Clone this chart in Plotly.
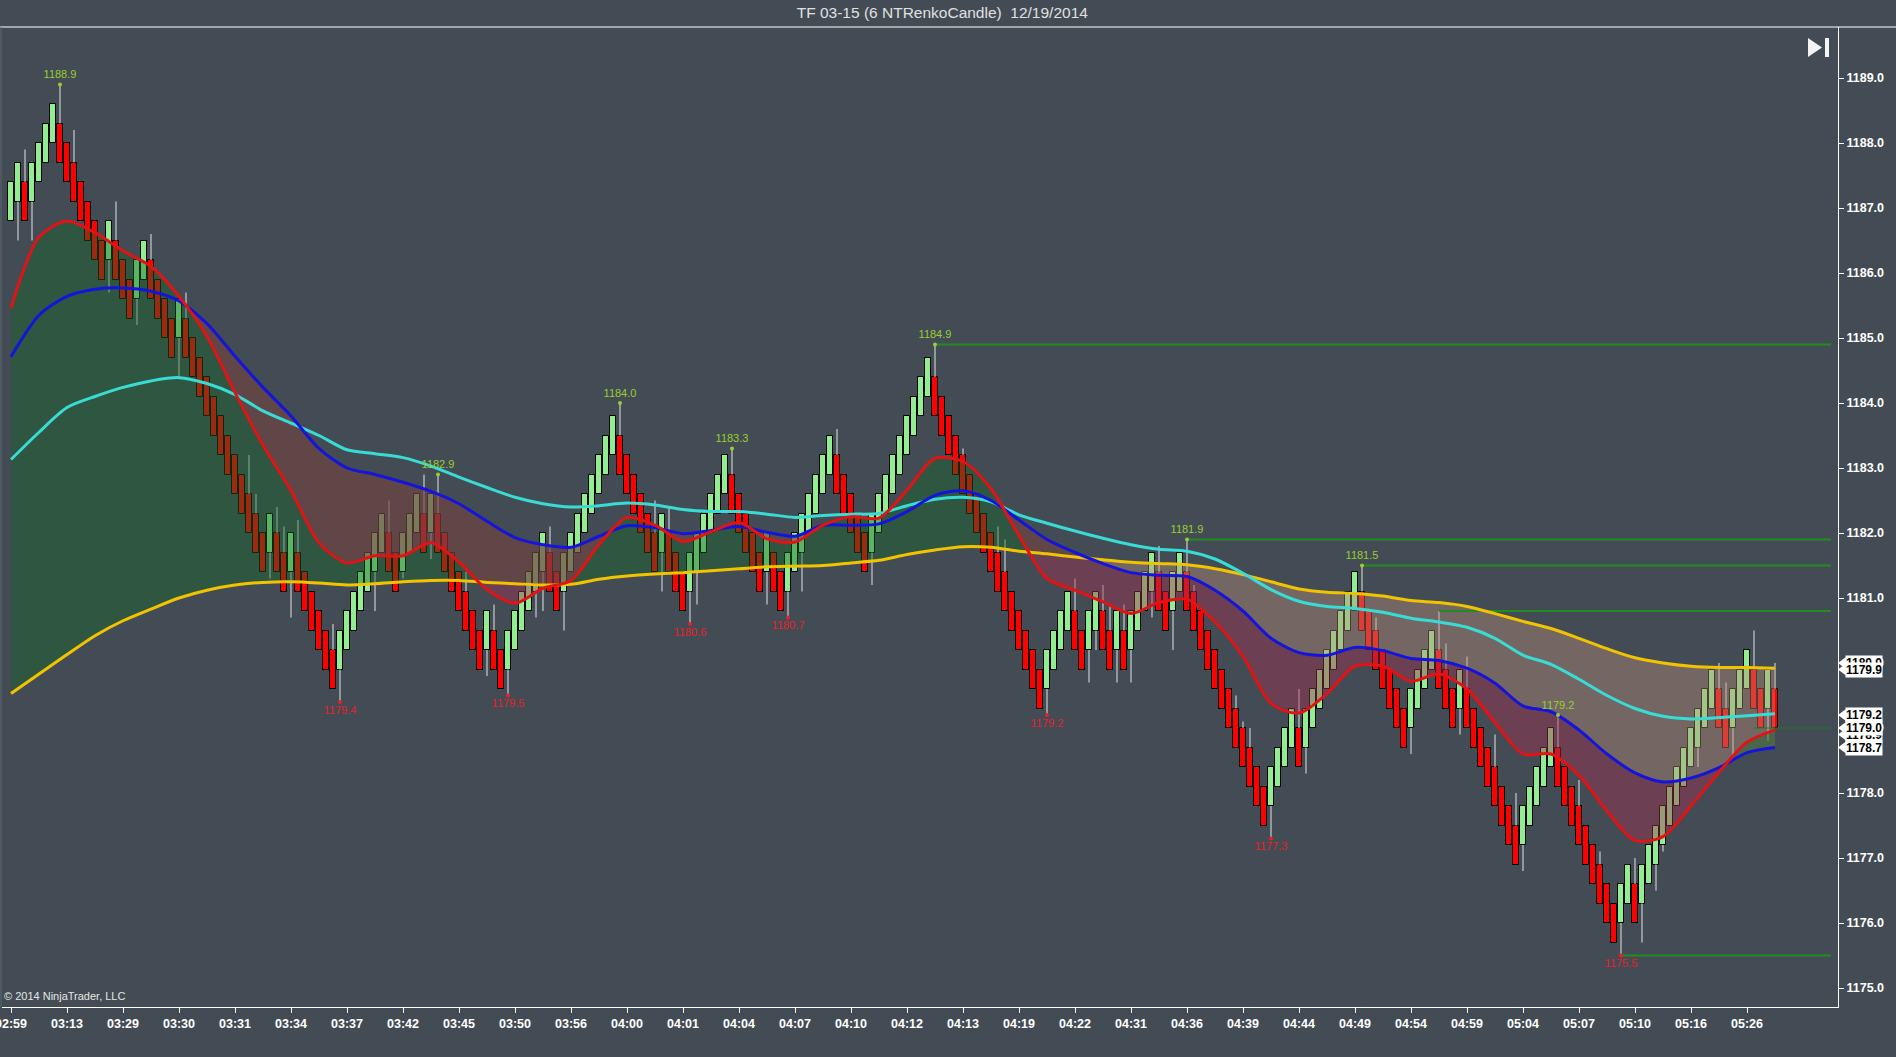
import plotly.graph_objects as go

BOX = 0.6  # renko brick height (6 ticks of 0.1)

# body top of every renko bar, read left to right
bar_top = [
    1187.4, 1187.7, 1187.4, 1187.7, 1188.0, 1188.3, 1188.6, 1188.3, 1188.0, 1187.7,
    1187.4, 1187.1, 1186.8, 1186.5, 1186.8, 1186.5, 1186.2, 1185.9, 1186.2, 1186.5,
    1186.2, 1185.9, 1185.6, 1185.3, 1185.6, 1185.3, 1185.0, 1184.7, 1184.4, 1184.1,
    1183.8, 1183.5, 1183.2, 1182.9, 1182.6, 1182.3, 1182.0, 1182.3, 1182.0, 1181.7,
    1182.0, 1181.7, 1181.4, 1181.1, 1180.8, 1180.5, 1180.2, 1180.5, 1180.8, 1181.1,
    1181.4, 1181.7, 1182.0, 1182.3, 1182.0, 1181.7, 1182.0, 1182.3, 1182.6, 1182.3,
    1182.6, 1182.3, 1182.0, 1181.7, 1181.4, 1181.1, 1180.8, 1180.5, 1180.8, 1180.5,
    1180.2, 1180.5, 1180.8, 1181.1, 1181.4, 1181.7, 1182.0, 1181.7, 1181.4, 1181.7,
    1182.0, 1182.3, 1182.6, 1182.9, 1183.2, 1183.5, 1183.8, 1183.5, 1183.2, 1182.9,
    1182.6, 1182.3, 1182.0, 1182.3, 1182.0, 1181.7, 1181.4, 1181.7, 1182.0, 1182.3,
    1182.6, 1182.9, 1183.2, 1182.9, 1182.6, 1182.3, 1182.0, 1181.7, 1182.0, 1181.7,
    1181.4, 1181.7, 1182.0, 1182.3, 1182.6, 1182.9, 1183.2, 1183.5, 1183.2, 1182.9,
    1182.6, 1182.3, 1182.0, 1182.3, 1182.6, 1182.9, 1183.2, 1183.5, 1183.8, 1184.1,
    1184.4, 1184.7, 1184.4, 1184.1, 1183.8, 1183.5, 1183.2, 1182.9, 1182.6, 1182.3,
    1182.0, 1181.7, 1181.4, 1181.1, 1180.8, 1180.5, 1180.2, 1179.9, 1180.2, 1180.5,
    1180.8, 1181.1, 1180.8, 1180.5, 1180.8, 1181.1, 1180.8, 1180.5, 1180.8, 1180.5,
    1180.8, 1181.1, 1181.4, 1181.7, 1181.4, 1181.1, 1181.4, 1181.7, 1181.4, 1181.1,
    1180.8, 1180.5, 1180.2, 1179.9, 1179.6, 1179.3, 1179.0, 1178.7, 1178.4, 1178.1,
    1178.4, 1178.7, 1179.0, 1179.3, 1179.0, 1179.3, 1179.6, 1179.9, 1180.2, 1180.5,
    1180.8, 1181.1, 1181.4, 1181.1, 1180.8, 1180.5, 1180.2, 1179.9, 1179.6, 1179.3,
    1179.6, 1179.9, 1180.2, 1180.5, 1180.2, 1179.9, 1179.6, 1179.9, 1179.6, 1179.3,
    1179.0, 1178.7, 1178.4, 1178.1, 1177.8, 1177.5, 1177.8, 1178.1, 1178.4, 1178.7,
    1179.0, 1178.7, 1178.4, 1178.1, 1177.8, 1177.5, 1177.2, 1176.9, 1176.6, 1176.3,
    1176.6, 1176.9, 1176.6, 1176.9, 1177.2, 1177.5, 1177.8, 1178.1, 1178.4, 1178.7,
    1179.0, 1179.3, 1179.6, 1179.9, 1179.6, 1179.3, 1179.6, 1179.9, 1180.2, 1179.9,
    1179.6, 1179.9, 1179.6,
]

# bars that show a wick: bar number, low, high
wick_idx = [1, 2, 3, 7, 9, 14, 15, 18, 20, 24, 25, 34, 35, 37, 38, 39, 40, 41, 46, 47,
            52, 54, 56, 59, 60, 61, 65, 68, 69, 71, 75, 76, 77, 79, 87, 92, 93, 94, 97, 98,
            103, 108, 111, 113, 118, 123, 132, 136, 141, 142, 148, 152, 154, 155, 156, 157,
            158, 159, 160, 163, 164, 166, 168, 169, 175, 176, 177, 180, 184, 185, 193, 195,
            200, 204, 205, 207, 208, 212, 215, 216, 221, 224, 227, 230, 232, 233, 235, 236,
            239, 241, 244, 245, 246, 249, 251, 252]
wick_lo = [1186.5, 1186.8, 1186.5, 1187.7, 1187.1, 1185.7, 1185.9, 1185.2, 1185.6, 1184.4,
           1184.7, 1182.0, 1181.7, 1181.3, 1181.4, 1181.1, 1180.7, 1181.1, 1179.6, 1179.4,
           1180.8, 1181.4, 1181.3, 1181.7, 1181.6, 1181.7, 1180.5, 1179.8, 1179.9, 1179.5,
           1180.7, 1180.8, 1181.1, 1180.5, 1182.9, 1181.4, 1181.1, 1181.4, 1180.6, 1180.9,
           1182.3, 1180.9, 1180.7, 1181.1, 1182.6, 1181.2, 1183.8, 1182.6, 1181.1, 1180.8,
           1179.2, 1180.2, 1179.7, 1180.2, 1180.2, 1179.9, 1179.7, 1179.9, 1179.7, 1180.7,
           1180.8, 1180.2, 1180.8, 1180.5, 1178.7, 1178.4, 1178.1, 1177.3, 1178.4, 1178.3,
           1180.5, 1179.9, 1178.6, 1179.6, 1179.3, 1178.9, 1179.0, 1177.8, 1176.9, 1176.8,
           1178.1, 1177.2, 1176.3, 1175.5, 1176.0, 1175.7, 1176.5, 1177.1, 1178.3, 1178.4,
           1179.0, 1178.7, 1178.5, 1179.3, 1178.8, 1179.0]
wick_hi = [1187.7, 1187.9, 1187.7, 1188.9, 1188.2, 1186.8, 1187.1, 1186.2, 1186.6, 1185.6,
           1185.7, 1183.2, 1182.6, 1182.3, 1182.4, 1182.1, 1182.0, 1182.2, 1180.6, 1180.5,
           1182.0, 1182.5, 1182.0, 1182.9, 1182.6, 1182.9, 1181.4, 1180.8, 1180.9, 1180.5,
           1181.7, 1182.0, 1182.1, 1181.7, 1184.0, 1182.5, 1182.3, 1182.4, 1181.7, 1182.0,
           1183.3, 1182.0, 1181.7, 1182.3, 1183.6, 1182.3, 1184.9, 1183.3, 1182.1, 1181.9,
           1180.2, 1181.3, 1180.8, 1181.1, 1181.2, 1180.9, 1180.8, 1180.9, 1180.8, 1181.7,
           1181.8, 1181.4, 1181.9, 1181.2, 1179.5, 1179.1, 1179.0, 1178.4, 1179.6, 1179.3,
           1181.5, 1180.7, 1179.6, 1180.8, 1180.3, 1179.9, 1180.1, 1178.9, 1178.0, 1177.8,
           1179.2, 1178.2, 1177.1, 1176.6, 1177.0, 1176.9, 1177.5, 1177.8, 1178.7, 1179.3,
           1180.0, 1179.7, 1179.6, 1180.5, 1179.9, 1180.0]

# moving averages, read every 4 bars
ma_step = 4
ma_red = [1185.46, 1186.55, 1186.80, 1186.62, 1186.34, 1186.10, 1185.64, 1185.02, 1184.16, 1183.35,
          1182.65, 1181.85, 1181.54, 1181.65, 1181.65, 1181.85, 1181.55, 1181.13, 1180.92, 1181.15,
          1181.27, 1181.82, 1182.24, 1182.12, 1181.87, 1182.02, 1182.16, 1181.91, 1181.86, 1182.12,
          1182.25, 1182.23, 1182.66, 1183.15, 1183.10, 1182.68, 1181.96, 1181.30, 1181.12, 1180.94,
          1180.76, 1180.93, 1180.98, 1180.63, 1180.10, 1179.38, 1179.23, 1179.53, 1179.95, 1179.95,
          1179.72, 1179.83, 1179.60, 1179.08, 1178.60, 1178.60, 1178.27, 1177.72, 1177.27, 1177.33,
          1177.80, 1178.32, 1178.78, 1178.97]
ma_blue = [1184.71, 1185.35, 1185.64, 1185.75, 1185.77, 1185.72, 1185.57, 1185.22, 1184.72, 1184.24,
           1183.80, 1183.30, 1183.00, 1182.90, 1182.78, 1182.64, 1182.45, 1182.18, 1181.93, 1181.82,
           1181.78, 1181.95, 1182.11, 1182.08, 1181.99, 1182.04, 1182.10, 1182.01, 1181.95, 1182.12,
           1182.12, 1182.14, 1182.33, 1182.58, 1182.65, 1182.50, 1182.20, 1181.90, 1181.70, 1181.53,
           1181.39, 1181.35, 1181.33, 1181.12, 1180.80, 1180.38, 1180.16, 1180.12, 1180.24, 1180.19,
           1180.07, 1180.04, 1179.92, 1179.69, 1179.34, 1179.25, 1178.97, 1178.60, 1178.31, 1178.17,
           1178.23, 1178.39, 1178.62, 1178.70]
ma_cyan = [1183.13, 1183.55, 1183.93, 1184.10, 1184.24, 1184.34, 1184.39, 1184.30, 1184.13, 1183.88,
           1183.69, 1183.50, 1183.28, 1183.22, 1183.16, 1183.03, 1182.86, 1182.70, 1182.55, 1182.45,
           1182.40, 1182.42, 1182.46, 1182.43, 1182.36, 1182.33, 1182.33, 1182.29, 1182.24, 1182.27,
           1182.29, 1182.30, 1182.42, 1182.52, 1182.55, 1182.48, 1182.28, 1182.15, 1182.03, 1181.92,
           1181.82, 1181.75, 1181.72, 1181.60, 1181.38, 1181.13, 1180.95, 1180.87, 1180.84, 1180.78,
           1180.69, 1180.63, 1180.55, 1180.38, 1180.12, 1179.98, 1179.75, 1179.50, 1179.30, 1179.18,
           1179.14, 1179.16, 1179.19, 1179.22]
ma_yellow = [1179.53, 1179.83, 1180.13, 1180.42, 1180.65, 1180.83, 1181.00, 1181.12, 1181.20, 1181.24,
             1181.25, 1181.23, 1181.20, 1181.22, 1181.25, 1181.27, 1181.27, 1181.24, 1181.22, 1181.20,
             1181.21, 1181.29, 1181.34, 1181.37, 1181.39, 1181.42, 1181.45, 1181.48, 1181.49, 1181.50,
             1181.54, 1181.58, 1181.67, 1181.74, 1181.79, 1181.78, 1181.72, 1181.68, 1181.63, 1181.59,
             1181.55, 1181.53, 1181.51, 1181.45, 1181.36, 1181.25, 1181.14, 1181.09, 1181.07, 1181.03,
             1180.96, 1180.93, 1180.87, 1180.76, 1180.64, 1180.53, 1180.38, 1180.22, 1180.08, 1180.00,
             1179.95, 1179.93, 1179.93, 1179.92]

time_labels = ["02:59", "03:13", "03:29", "03:30", "03:31", "03:34", "03:37", "03:42",
               "03:45", "03:50", "03:56", "04:00", "04:01", "04:04", "04:07", "04:10",
               "04:12", "04:13", "04:19", "04:22", "04:31", "04:36", "04:39", "04:44",
               "04:49", "04:54", "04:59", "05:04", "05:07", "05:10", "05:16", "05:26"]
bars_per_label = 8

swing_hi_idx = [7, 61, 87, 103, 132, 168, 193, 221]
swing_hi_val = [1188.9, 1182.9, 1184.0, 1183.3, 1184.9, 1181.9, 1181.5, 1179.2]
swing_lo_idx = [47, 71, 97, 111, 148, 180, 230]
swing_lo_val = [1179.4, 1179.5, 1180.6, 1180.7, 1179.2, 1177.3, 1175.5]

level_start = [132, 168, 193, 204, 230, 249]
level_val = [1184.9, 1181.9, 1181.5, 1180.8, 1175.5, 1179.0]
level_end = 260

# price markers on the right axis (drawn in this order)
marker_val = [1180.0, 1179.9, 1178.9, 1179.2, 1179.0, 1178.7]

BG = "#434c54"
FONT = "Liberation Sans, Arial, sans-serif"
W, H = 1896, 1057
L, R, T, B = 2, 58, 27, 50
PW, PH = W - L - R, H - T - B


def px_x(px):
    return (px - L) / PW


def px_y(py):
    return (H - B - py) / PH


n = len(bar_top)
idx = list(range(n))
up = [True] + [bar_top[i] > bar_top[i - 1] for i in range(1, n)]
colors = ["#90ee90" if u else "#ff0000" for u in up]

fig = go.Figure()

# bodies
fig.add_trace(go.Bar(
    x=idx, y=[BOX] * n, base=[t - BOX for t in bar_top], width=0.8,
    marker=dict(color=colors, line=dict(color="black", width=1)),
    hoverinfo="skip", showlegend=False,
))

# wicks, only the parts outside the bodies
wx, wy = [], []
for i, lo, hi in zip(wick_idx, wick_lo, wick_hi):
    top = bar_top[i]
    if hi > top + 0.01:
        wx += [i, i, None]
        wy += [top, hi, None]
    if lo < top - BOX - 0.01:
        wx += [i, i, None]
        wy += [top - BOX, lo, None]
fig.add_trace(go.Scatter(x=wx, y=wy, mode="lines", line=dict(color="#e4e4e4", width=1),
                         hoverinfo="skip", showlegend=False))

ma_x = [i * ma_step for i in range(len(ma_red))]


def band(a, b, pos_color, neg_color):
    top = [max(p, q) for p, q in zip(a, b)]
    for base, fc in ((b, pos_color), (a, neg_color)):
        fig.add_trace(go.Scatter(x=ma_x, y=base, mode="lines", line=dict(width=0),
                                 hoverinfo="skip", showlegend=False))
        fig.add_trace(go.Scatter(x=ma_x, y=top, mode="lines", line=dict(width=0),
                                 fill="tonexty", fillcolor=fc,
                                 hoverinfo="skip", showlegend=False))


band(ma_blue, ma_yellow, "rgba(20,100,40,0.42)", "rgba(185,140,122,0.42)")
band(ma_red, ma_blue, "rgba(20,100,40,0.42)", "rgba(160,50,80,0.45)")

# support / resistance levels
for i, (s, v) in enumerate(zip(level_start, level_val)):
    last = i == len(level_val) - 1
    fig.add_trace(go.Scatter(x=[s, level_end], y=[v, v], mode="lines",
                             line=dict(color="#1e7a1e" if last else "#228b22", width=1 if last else 2),
                             hoverinfo="skip", showlegend=False))

for vals, col in ((ma_yellow, "#f2c300"), (ma_cyan, "#38dcd4"), (ma_blue, "#1414dc"), (ma_red, "#e01414")):
    fig.add_trace(go.Scatter(x=ma_x, y=vals, mode="lines",
                             line=dict(color=col, width=3, shape="spline", smoothing=0.8),
                             hoverinfo="skip", showlegend=False))

fig.add_trace(go.Scatter(
    x=swing_hi_idx, y=swing_hi_val, mode="markers+text",
    text=[f"{v:.1f}" for v in swing_hi_val], textposition="top center",
    textfont=dict(family=FONT, size=11, color="#9acd32"),
    marker=dict(color="#9acd32", size=4), hoverinfo="skip", showlegend=False,
))
fig.add_trace(go.Scatter(
    x=swing_lo_idx, y=swing_lo_val, mode="markers+text",
    text=[f"{v:.1f}" for v in swing_lo_val], textposition="bottom center",
    textfont=dict(family=FONT, size=11, color="#e8202a"),
    marker=dict(color="#e8202a", size=4), hoverinfo="skip", showlegend=False,
))

shapes = [
    dict(type="line", xref="paper", yref="paper", x0=px_x(0), x1=px_x(W), y0=1, y1=1,
         line=dict(color="white", width=1)),
    dict(type="line", xref="paper", yref="paper", x0=px_x(1), x1=px_x(1), y0=0, y1=1,
         line=dict(color="#5c666e", width=1)),
    dict(type="path", xref="paper", yref="paper",
         path=f"M {px_x(1808)},{px_y(38)} L {px_x(1808)},{px_y(57)} L {px_x(1822)},{px_y(47.5)} Z",
         fillcolor="#f4f4f4", line=dict(width=0)),
    dict(type="rect", xref="paper", yref="paper", x0=px_x(1825), x1=px_x(1829),
         y0=px_y(57), y1=px_y(38), fillcolor="#f4f4f4", line=dict(width=0)),
]
annotations = [
    dict(text="© 2014 NinjaTrader, LLC", xref="paper", yref="paper", x=px_x(2), y=px_y(1004),
         xanchor="left", yanchor="bottom", showarrow=False,
         font=dict(family=FONT, size=11, color="#e6e6e6")),
]
half = 6 / 65
for v in marker_val:
    shapes.append(dict(type="path", xref="paper", yref="y",
                       path=f"M {px_x(1838)},{v} L {px_x(1846)},{v + half} L {px_x(1846)},{v - half} Z",
                       fillcolor="white", line=dict(width=0)))
    annotations.append(dict(text=f"<b>{v:.1f}</b>", xref="paper", yref="y", x=px_x(1845), y=v,
                            xanchor="left", yanchor="middle", showarrow=False, bgcolor="white",
                            borderpad=0, font=dict(family=FONT, size=12, color="black")))

fig.update_layout(
    width=W, height=H,
    margin=dict(l=L, r=R, t=T, b=B),
    paper_bgcolor=BG, plot_bgcolor=BG,
    hovermode=False,
    title=dict(text="TF 03-15 (6 NTRenkoCandle)\u00a0 12/19/2014", x=0.497, xref="container",
               y=1 - 13 / H, yanchor="middle", xanchor="center",
               font=dict(family=FONT, size=15.5, color="#e0e0e0")),
    xaxis=dict(range=[(L - 11) / 7, (W - R - 11) / 7], showgrid=False, zeroline=False,
               tickvals=[k * bars_per_label for k in range(len(time_labels))], ticktext=time_labels,
               ticks="outside", ticklen=5, tickcolor="white", showline=True, linecolor="white",
               ticklabeloverflow="allow", automargin=False,
               tickfont=dict(family=FONT, size=12.5, color="white", weight="bold")),
    yaxis=dict(side="right", range=[1189 - (H - B - 78) / 65, 1189 + (78 - T) / 65],
               showgrid=False, zeroline=False, dtick=1, tick0=1175, tickformat=".1f",
               ticks="outside", ticklen=5, tickcolor="white", showline=True, linecolor="white",
               automargin=False,
               tickfont=dict(family=FONT, size=12.5, color="white", weight="bold")),
    shapes=shapes, annotations=annotations,
    bargap=0,
)

fig.write_html("out.html", config={"displayModeBar": False},
               post_script="document.body.style.margin='0';document.body.style.overflow='hidden';")
